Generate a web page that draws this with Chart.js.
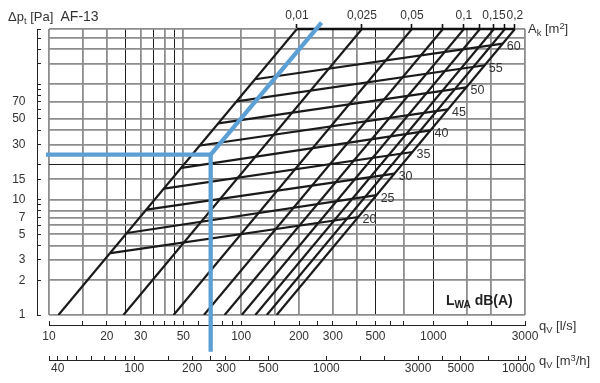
<!DOCTYPE html>
<html><head><meta charset="utf-8">
<script src="https://cdn.jsdelivr.net/npm/chart.js@4.4.0/dist/chart.umd.min.js"></script>
<style>
html,body{margin:0;padding:0;background:#fff;}
#wrap{position:relative;width:600px;height:383px;overflow:hidden;}
canvas{position:absolute;left:0;top:0;}
.t{position:absolute;font-family:'Liberation Sans',Arial,sans-serif;color:#333;white-space:nowrap;line-height:1;}
.t sub{font-size:72%;vertical-align:-0.3em;line-height:0}
.t sup{font-size:72%;vertical-align:0.45em;line-height:0}
</style></head><body>
<div id="wrap">
<canvas id="c" width="600" height="383"></canvas>
<div class="t" style="left:8px;top:9px;font-size:13px">&Delta;p<sub>t</sub> [Pa]&nbsp;&nbsp;<span style="font-size:14px">AF-13</span></div>
<div class="t" style="left:528px;top:22px;font-size:13px">A<sub>k</sub> [m<sup>2</sup>]</div>
<div class="t" style="left:539px;top:319px;font-size:13px">q<sub>V</sub> [l/s]</div>
<div class="t" style="left:539px;top:354px;font-size:13px">q<sub>V</sub> [m<sup>3</sup>/h]</div>
<div class="t" style="left:446px;top:293px;font-size:14px;font-weight:bold;color:#222">L<sub>WA</sub> dB(A)</div>
</div>
<script>
// ---- data ----
// Free-area (A_k) lines: air flow [l/s] at the top (300 Pa) and bottom (1 Pa) of the chart
const akLabels = ['0,01', '0,025', '0,05', '', '0,1', '', '0,15', '', '0,2'];
const akTopQ = [195, 425, 774, 1122, 1443, 1748, 2067, 2358, 2658];
const akTopP = [300, 300, 300, 300, 300, 300, 300, 300, 300];
const akBotQ = [11.2, 24.4, 44.5, 64, 82, 100.7, 118.5, 136, 153];
const akBotP = [1, 1, 1, 1, 1, 1, 1, 1, 1];
// Sound power level lines L_WA dB(A): start / end points (q [l/s], dp [Pa])
const dbLevels = [20, 25, 30, 35, 40, 45, 50, 55, 60];
const dbStartQ = [20.9, 25.5, 32.2, 39.7, 48.9, 61.0, 76.0, 94.8, 118.1];
const dbStartP = [3.44, 5.13, 8.17, 12.44, 18.83, 29.4, 45.6, 70.9, 110.1];
const dbEndQ = [408, 507, 629, 780, 967, 1193, 1487, 1852, 2298];
const dbEndP = [7.06, 10.92, 16.79, 25.8, 39.7, 60.4, 93.8, 145.6, 224];
// Example (blue) reading: 250 m3/h -> ~24.5 Pa
const exampleQ = [9.65, 69.4, 69.4];
const exampleP = [24.5, 24.5, 0.48];
const exampleDiagQ = [69.4, 262];
const exampleDiagP = [24.5, 340];
// axes
const yGridVals = [1, 2, 3, 4, 5, 6, 7, 8, 10, 15, 20, 30, 40, 50, 70, 100, 150, 200, 250, 300];
const yTickVals = [1, 2, 3, 4, 5, 6, 7, 8, 9, 10, 15, 20, 30, 40, 50, 60, 70, 80, 90, 100, 150, 200, 250, 300];
const yLabelVals = [1, 2, 3, 5, 7, 10, 15, 30, 50, 70];
const xGridVals = [10, 15, 20, 25, 30, 35, 40, 45, 50, 100, 150, 200, 300, 400, 500, 700, 1000, 1500, 2000, 3000];
const lsTickVals = [10, 15, 20, 25, 30, 35, 40, 45, 50, 60, 70, 80, 90, 100, 150, 200, 250, 300, 400, 500, 600, 700, 1000, 1500, 2000, 3000];
const lsLabelVals = [10, 20, 30, 50, 100, 200, 300, 500, 1000, 3000];
const m3TickVals = [36, 40, 45, 50, 60, 70, 80, 90, 100, 150, 200, 250, 300, 400, 500, 1000, 1500, 2000, 3000, 4000, 5000, 7000, 10000, 10800];
const m3LabelVals = [40, 100, 200, 300, 500, 1000, 3000, 5000, 10000];
const xDarkGrid = [25, 35, 45, 500, 1000];
const yDarkGrid = [20];

// ---- chart ----
const FONT = "'Liberation Sans', Arial, sans-serif";
const TXT = '#333';
const pts = (qs, ps) => qs.map((q, i) => ({x: q, y: ps[i]}));
const fixedTicks = vals => scale => { scale.ticks = vals.map(v => ({value: v})); };
const gridColor = dark => ctx => dark.includes(ctx.tick && ctx.tick.value) ? '#1e1e1e' : '#8d8d8d';
const gridWidth = dark => ctx => dark.includes(ctx.tick && ctx.tick.value) ? 1 : 1.8;
const lbl = list => v => list.includes(v) ? String(v) : '';

const datasets = [];
dbLevels.forEach((lv, i) => datasets.push({
  data: pts([dbStartQ[i], dbEndQ[i]], [dbStartP[i], dbEndP[i]]),
  borderColor: '#1a1a1a', borderWidth: 2.2, order: 2
}));
akTopQ.forEach((q, i) => datasets.push({
  data: pts([akBotQ[i], akTopQ[i]], [akBotP[i], akTopP[i]]),
  borderColor: '#1a1a1a', borderWidth: 2.2, order: 2
}));
datasets.push({
  data: pts([akTopQ[0], akTopQ[akTopQ.length - 1]], [akTopP[0], akTopP[akTopP.length - 1]]),
  borderColor: '#111', borderWidth: 2.6, clip: false, order: 1
});
datasets.push({data: pts(exampleQ, exampleP), borderColor: '#5b9fd4', borderWidth: 4.3, clip: false, order: 0, borderJoinStyle: 'miter'});
datasets.push({data: pts(exampleDiagQ, exampleDiagP), borderColor: '#5b9fd4', borderWidth: 4.3, clip: false, order: 0});
datasets.forEach(d => { d.xAxisID = 'x'; d.yAxisID = 'y'; d.pointRadius = 0; d.fill = false; d.tension = 0; });

const dbLabelPlugin = {
  id: 'dbLabels',
  afterDatasetsDraw(chart) {
    const c = chart.ctx, xs = chart.scales.x, ys = chart.scales.y;
    c.save();
    c.font = '12.5px ' + FONT; c.fillStyle = TXT; c.textAlign = 'left'; c.textBaseline = 'middle';
    dbLevels.forEach((lv, i) => {
      c.fillText(String(lv), xs.getPixelForValue(dbEndQ[i]) + 4, ys.getPixelForValue(dbEndP[i]) + 3);
    });
    c.restore();
  }
};

const tickFont = {family: FONT, size: 12};
new Chart(document.getElementById('c'), {
  type: 'line',
  data: {datasets},
  plugins: [dbLabelPlugin],
  options: {
    responsive: false, animation: false, devicePixelRatio: 1,
    layout: {padding: {left: 0, right: 75, top: 0, bottom: 0}},
    plugins: {legend: {display: false}, tooltip: {enabled: false}},
    scales: {
      x: {type: 'logarithmic', position: 'bottom', min: 10, max: 3000, weight: 0,
        afterBuildTicks: fixedTicks(xGridVals), afterFit: s => { s.height = 10; },
        ticks: {display: false}, border: {display: false},
        grid: {drawTicks: false, color: gridColor(xDarkGrid), lineWidth: gridWidth(xDarkGrid)}},
      xls: {type: 'logarithmic', position: 'bottom', min: 10, max: 3000, weight: 1,
        afterBuildTicks: fixedTicks(lsTickVals), afterFit: s => { s.height = 35; },
        border: {display: true, color: '#222', width: 1},
        grid: {drawOnChartArea: false, tickLength: -4, tickColor: '#222', tickWidth: 1},
        ticks: {autoSkip: false, maxRotation: 0, minRotation: 0, padding: 8, font: tickFont, color: TXT, callback: lbl(lsLabelVals)}},
      xm3: {type: 'logarithmic', position: 'bottom', min: 36, max: 10800, weight: 2,
        afterBuildTicks: fixedTicks(m3TickVals), afterFit: s => { s.height = 23; },
        border: {display: true, color: '#222', width: 1},
        grid: {drawOnChartArea: false, tickLength: -4, tickColor: '#222', tickWidth: 1},
        ticks: {autoSkip: false, maxRotation: 0, minRotation: 0, padding: 5, font: tickFont, color: TXT, callback: lbl(m3LabelVals)}},
      xTop: {type: 'logarithmic', position: 'top', min: 10, max: 3000,
        afterBuildTicks: fixedTicks(akTopQ), afterFit: s => { s.height = 29; },
        border: {display: false},
        grid: {drawOnChartArea: false, tickLength: 5, tickColor: '#111', tickWidth: 1.6},
        ticks: {autoSkip: false, maxRotation: 0, minRotation: 0, padding: 1, font: tickFont, color: TXT, callback: (v, i) => akLabels[i]}},
      y: {type: 'logarithmic', position: 'left', min: 1, max: 300, weight: 0,
        afterBuildTicks: fixedTicks(yGridVals), afterFit: s => { s.width = 12; },
        ticks: {display: false}, border: {display: false},
        grid: {drawTicks: false, color: gridColor(yDarkGrid), lineWidth: gridWidth(yDarkGrid)}},
      yAx: {type: 'logarithmic', position: 'left', min: 1, max: 300, weight: 1,
        afterBuildTicks: fixedTicks(yTickVals), afterFit: s => { s.width = 37; },
        border: {display: true, color: '#222', width: 1},
        grid: {drawOnChartArea: false, tickLength: -4, tickColor: '#222', tickWidth: 1},
        ticks: {autoSkip: false, padding: 15.5, font: tickFont, color: TXT, callback: lbl(yLabelVals)}}
    }
  }
});
</script>
</body></html>
